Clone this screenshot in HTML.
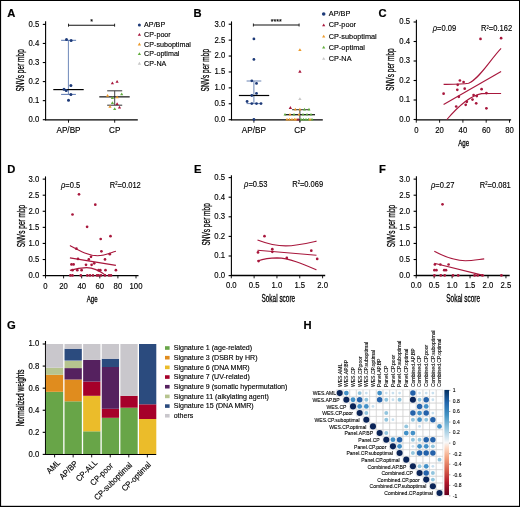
<!DOCTYPE html><html><head><meta charset="utf-8"><style>html,body{margin:0;padding:0;background:#fff;overflow:hidden}svg{display:block;font-family:"Liberation Sans", sans-serif;will-change:transform}text{stroke:#000;stroke-width:0.14px}</style></head><body>
<svg width="520" height="507" viewBox="0 0 520 507" font-family='"Liberation Sans", sans-serif'>
<rect x="0" y="0" width="520" height="507" fill="#fff"/>
<text x="7.3" y="16.8" font-size="11.2" text-anchor="start" font-weight="bold" fill="#000" style="stroke-width:0.2px">A</text>
<line x1="45.6" y1="21.2" x2="45.6" y2="120.2" stroke="#000" stroke-width="1.1"/>
<line x1="42.8" y1="119.7" x2="45.6" y2="119.7" stroke="#000" stroke-width="1.1"/>
<text transform="translate(39.3 122.15) scale(0.9 1)" font-size="8.6" text-anchor="end" font-weight="normal" fill="#000">0.0</text>
<line x1="42.8" y1="100.64" x2="45.6" y2="100.64" stroke="#000" stroke-width="1.1"/>
<text transform="translate(39.3 103.09) scale(0.9 1)" font-size="8.6" text-anchor="end" font-weight="normal" fill="#000">0.1</text>
<line x1="42.8" y1="81.58" x2="45.6" y2="81.58" stroke="#000" stroke-width="1.1"/>
<text transform="translate(39.3 84.03) scale(0.9 1)" font-size="8.6" text-anchor="end" font-weight="normal" fill="#000">0.2</text>
<line x1="42.8" y1="62.52" x2="45.6" y2="62.52" stroke="#000" stroke-width="1.1"/>
<text transform="translate(39.3 64.97) scale(0.9 1)" font-size="8.6" text-anchor="end" font-weight="normal" fill="#000">0.3</text>
<line x1="42.8" y1="43.46" x2="45.6" y2="43.46" stroke="#000" stroke-width="1.1"/>
<text transform="translate(39.3 45.91) scale(0.9 1)" font-size="8.6" text-anchor="end" font-weight="normal" fill="#000">0.4</text>
<line x1="42.8" y1="24.4" x2="45.6" y2="24.4" stroke="#000" stroke-width="1.1"/>
<text transform="translate(39.3 26.85) scale(0.9 1)" font-size="8.6" text-anchor="end" font-weight="normal" fill="#000">0.5</text>
<line x1="45" y1="119.9" x2="137.8" y2="119.9" stroke="#000" stroke-width="1.4"/>
<line x1="68.5" y1="119.9" x2="68.5" y2="122.7" stroke="#000" stroke-width="0.9"/>
<text transform="translate(68.5 132.7) scale(0.94 1)" font-size="8.7" text-anchor="middle" font-weight="normal" fill="#000">AP/BP</text>
<line x1="114.7" y1="119.9" x2="114.7" y2="122.7" stroke="#000" stroke-width="0.9"/>
<text transform="translate(114.7 132.7) scale(0.94 1)" font-size="8.7" text-anchor="middle" font-weight="normal" fill="#000">CP</text>
<text transform="translate(23.6 70.4) rotate(-90) scale(0.653 1)" x="0" y="0" font-size="10.0" text-anchor="middle" fill="#000" style="stroke-width:0.3px">SNVs per mbp</text>
<line x1="68.5" y1="25.2" x2="114.6" y2="25.2" stroke="#111" stroke-width="1.1"/>
<line x1="68.5" y1="23.7" x2="68.5" y2="26.7" stroke="#111" stroke-width="0.9"/>
<line x1="114.6" y1="23.7" x2="114.6" y2="26.7" stroke="#111" stroke-width="0.9"/>
<text x="91.7" y="24.3" font-size="7" text-anchor="middle" font-weight="normal" fill="#000">*</text>
<line x1="68.4" y1="40.3" x2="68.4" y2="94.4" stroke="#4a6aa8" stroke-width="0.8"/>
<line x1="61.1" y1="40.3" x2="76.1" y2="40.3" stroke="#4a6aa8" stroke-width="0.9"/>
<line x1="61.1" y1="94.4" x2="75.9" y2="94.4" stroke="#4a6aa8" stroke-width="0.9"/>
<line x1="53.3" y1="89.6" x2="83.7" y2="89.6" stroke="#000" stroke-width="1.2"/>
<circle cx="66.5" cy="39.5" r="1.5" fill="#1d3a78"/>
<circle cx="71.1" cy="40.5" r="1.5" fill="#1d3a78"/>
<circle cx="70.9" cy="85.5" r="1.5" fill="#1d3a78"/>
<circle cx="64" cy="89.3" r="1.5" fill="#1d3a78"/>
<circle cx="66.2" cy="90.5" r="1.5" fill="#1d3a78"/>
<circle cx="70.9" cy="94.4" r="1.5" fill="#1d3a78"/>
<circle cx="68.5" cy="100.2" r="1.5" fill="#1d3a78"/>
<line x1="114.7" y1="90.8" x2="114.7" y2="105.2" stroke="#444" stroke-width="1.0"/>
<line x1="107.2" y1="90.8" x2="122.2" y2="90.8" stroke="#444" stroke-width="1.1"/>
<line x1="107.2" y1="105.2" x2="122.2" y2="105.2" stroke="#444" stroke-width="1.1"/>
<line x1="99.3" y1="96.85" x2="129.7" y2="96.85" stroke="#222" stroke-width="1.3"/>
<path d="M112.4 81.43L114 84.21L110.8 84.21Z" fill="#a8173c"/>
<path d="M117.1 80.03L118.7 82.81L115.5 82.81Z" fill="#a8173c"/>
<path d="M117.1 102.33L118.7 105.11L115.5 105.11Z" fill="#a8173c"/>
<path d="M119.5 105.63L121.1 108.41L117.9 108.41Z" fill="#a8173c"/>
<path d="M107.6 94.03L109.2 96.81L106 96.81Z" fill="#ec9a2a"/>
<path d="M117.1 95.43L118.7 98.21L115.5 98.21Z" fill="#ec9a2a"/>
<path d="M110 104.93L111.6 107.71L108.4 107.71Z" fill="#ec9a2a"/>
<path d="M121.7 92.53L123.3 95.31L120.1 95.31Z" fill="#62ad3e"/>
<path d="M112.4 96.23L114 99.01L110.8 99.01Z" fill="#62ad3e"/>
<path d="M112.4 101.33L114 104.11L110.8 104.11Z" fill="#62ad3e"/>
<path d="M114.7 107.23L116.3 110.01L113.1 110.01Z" fill="#62ad3e"/>
<circle cx="139.4" cy="25.1" r="1.5" fill="#1d3a78"/>
<text transform="translate(144.1 27.3) scale(0.98 1)" font-size="7.3" text-anchor="start" font-weight="normal" fill="#000">AP/BP</text>
<path d="M139.4 33L141.05 35.87L137.75 35.87Z" fill="#a8173c"/>
<text transform="translate(144.1 36.92) scale(0.98 1)" font-size="7.3" text-anchor="start" font-weight="normal" fill="#000">CP-poor</text>
<path d="M139.4 42.62L141.05 45.49L137.75 45.49Z" fill="#ec9a2a"/>
<text transform="translate(144.1 46.54) scale(0.98 1)" font-size="7.3" text-anchor="start" font-weight="normal" fill="#000">CP-suboptimal</text>
<path d="M139.4 52.24L141.05 55.11L137.75 55.11Z" fill="#62ad3e"/>
<text transform="translate(144.1 56.16) scale(0.98 1)" font-size="7.3" text-anchor="start" font-weight="normal" fill="#000">CP-optimal</text>
<path d="M139.4 61.86L141.05 64.73L137.75 64.73Z" fill="#c8c8c8"/>
<text transform="translate(144.1 65.78) scale(0.98 1)" font-size="7.3" text-anchor="start" font-weight="normal" fill="#000">CP-NA</text>
<text x="193.5" y="16.9" font-size="11.2" text-anchor="start" font-weight="bold" fill="#000" style="stroke-width:0.2px">B</text>
<line x1="231.5" y1="21.4" x2="231.5" y2="120.2" stroke="#000" stroke-width="1.1"/>
<line x1="228.7" y1="119.7" x2="231.5" y2="119.7" stroke="#000" stroke-width="1.1"/>
<text transform="translate(225.2 122.15) scale(0.9 1)" font-size="8.6" text-anchor="end" font-weight="normal" fill="#000">0.0</text>
<line x1="228.7" y1="103.78" x2="231.5" y2="103.78" stroke="#000" stroke-width="1.1"/>
<text transform="translate(225.2 106.23) scale(0.9 1)" font-size="8.6" text-anchor="end" font-weight="normal" fill="#000">0.5</text>
<line x1="228.7" y1="87.87" x2="231.5" y2="87.87" stroke="#000" stroke-width="1.1"/>
<text transform="translate(225.2 90.32) scale(0.9 1)" font-size="8.6" text-anchor="end" font-weight="normal" fill="#000">1.0</text>
<line x1="228.7" y1="71.96" x2="231.5" y2="71.96" stroke="#000" stroke-width="1.1"/>
<text transform="translate(225.2 74.41) scale(0.9 1)" font-size="8.6" text-anchor="end" font-weight="normal" fill="#000">1.5</text>
<line x1="228.7" y1="56.04" x2="231.5" y2="56.04" stroke="#000" stroke-width="1.1"/>
<text transform="translate(225.2 58.49) scale(0.9 1)" font-size="8.6" text-anchor="end" font-weight="normal" fill="#000">2.0</text>
<line x1="228.7" y1="40.13" x2="231.5" y2="40.13" stroke="#000" stroke-width="1.1"/>
<text transform="translate(225.2 42.58) scale(0.9 1)" font-size="8.6" text-anchor="end" font-weight="normal" fill="#000">2.5</text>
<line x1="228.7" y1="24.21" x2="231.5" y2="24.21" stroke="#000" stroke-width="1.1"/>
<text transform="translate(225.2 26.66) scale(0.9 1)" font-size="8.6" text-anchor="end" font-weight="normal" fill="#000">3.0</text>
<line x1="230.9" y1="119.9" x2="322.8" y2="119.9" stroke="#000" stroke-width="1.4"/>
<line x1="253.9" y1="119.9" x2="253.9" y2="122.7" stroke="#000" stroke-width="0.9"/>
<text transform="translate(253.9 132.7) scale(0.94 1)" font-size="8.7" text-anchor="middle" font-weight="normal" fill="#000">AP/BP</text>
<line x1="299.9" y1="119.9" x2="299.9" y2="122.7" stroke="#000" stroke-width="0.9"/>
<text transform="translate(299.9 132.7) scale(0.94 1)" font-size="8.7" text-anchor="middle" font-weight="normal" fill="#000">CP</text>
<text transform="translate(208.9 70.2) rotate(-90) scale(0.653 1)" x="0" y="0" font-size="10.0" text-anchor="middle" fill="#000" style="stroke-width:0.3px">SNVs per mbp</text>
<line x1="253.4" y1="25" x2="299.1" y2="25" stroke="#111" stroke-width="1.1"/>
<line x1="253.4" y1="23.5" x2="253.4" y2="26.5" stroke="#111" stroke-width="0.9"/>
<line x1="299.1" y1="23.5" x2="299.1" y2="26.5" stroke="#111" stroke-width="0.9"/>
<text x="276.3" y="24.1" font-size="7" text-anchor="middle" font-weight="normal" fill="#000">****</text>
<line x1="253.9" y1="81" x2="253.9" y2="103.6" stroke="#6a84b4" stroke-width="1.0"/>
<line x1="246.6" y1="81" x2="261.3" y2="81" stroke="#6a84b4" stroke-width="1.0"/>
<line x1="246.6" y1="103.6" x2="261.3" y2="103.6" stroke="#6a84b4" stroke-width="1.0"/>
<line x1="238.9" y1="95.5" x2="269.2" y2="95.5" stroke="#000" stroke-width="1.2"/>
<circle cx="253.9" cy="38.9" r="1.4" fill="#1d3a78"/>
<circle cx="253.9" cy="59.4" r="1.4" fill="#1d3a78"/>
<circle cx="251.8" cy="80.8" r="1.4" fill="#1d3a78"/>
<circle cx="256.5" cy="83.4" r="1.4" fill="#1d3a78"/>
<circle cx="256.5" cy="93.4" r="1.4" fill="#1d3a78"/>
<circle cx="251.8" cy="95.5" r="1.4" fill="#1d3a78"/>
<circle cx="247.1" cy="101.5" r="1.4" fill="#1d3a78"/>
<circle cx="251.8" cy="103.6" r="1.4" fill="#1d3a78"/>
<circle cx="256.5" cy="103.6" r="1.4" fill="#1d3a78"/>
<circle cx="261" cy="103.6" r="1.4" fill="#1d3a78"/>
<circle cx="253.9" cy="119.5" r="1.4" fill="#1d3a78"/>
<path d="M299.9 48.13L301.6 51.08L298.2 51.08Z" fill="#ec9a2a"/>
<path d="M299.9 69.83L301.6 72.78L298.2 72.78Z" fill="#a8173c"/>
<path d="M299.9 97.13L301.6 100.08L298.2 100.08Z" fill="#c8c8c8"/>
<path d="M290.4 106.03L292.1 108.98L288.7 108.98Z" fill="#a8173c"/>
<line x1="299.9" y1="109.7" x2="299.9" y2="122" stroke="#333" stroke-width="1.0"/>
<line x1="292.1" y1="109.7" x2="309.8" y2="109.7" stroke="#333" stroke-width="1.0"/>
<line x1="284.8" y1="114.7" x2="315" y2="114.7" stroke="#111" stroke-width="1.2"/>
<path d="M295.3 107.83L296.8 110.44L293.8 110.44Z" fill="#ec9a2a"/>
<path d="M299.9 107.83L301.4 110.44L298.4 110.44Z" fill="#ec9a2a"/>
<path d="M304.5 107.83L306 110.44L303 110.44Z" fill="#62ad3e"/>
<path d="M309 107.83L310.5 110.44L307.5 110.44Z" fill="#62ad3e"/>
<path d="M285 112.93L286.5 115.54L283.5 115.54Z" fill="#62ad3e"/>
<path d="M294 112.93L295.5 115.54L292.5 115.54Z" fill="#62ad3e"/>
<path d="M303 112.93L304.5 115.54L301.5 115.54Z" fill="#62ad3e"/>
<path d="M307 112.93L308.5 115.54L305.5 115.54Z" fill="#62ad3e"/>
<path d="M311 112.93L312.5 115.54L309.5 115.54Z" fill="#62ad3e"/>
<path d="M290 112.93L291.5 115.54L288.5 115.54Z" fill="#ec9a2a"/>
<path d="M299 112.93L300.5 115.54L297.5 115.54Z" fill="#ec9a2a"/>
<path d="M287 117.83L288.5 120.44L285.5 120.44Z" fill="#ec9a2a"/>
<path d="M289.5 117.83L291 120.44L288 120.44Z" fill="#ec9a2a"/>
<path d="M292 117.83L293.5 120.44L290.5 120.44Z" fill="#ec9a2a"/>
<path d="M294.5 117.83L296 120.44L293 120.44Z" fill="#ec9a2a"/>
<path d="M296 117.83L297.5 120.44L294.5 120.44Z" fill="#ec9a2a"/>
<path d="M298 117.83L299.5 120.44L296.5 120.44Z" fill="#a8173c"/>
<path d="M301 117.83L302.5 120.44L299.5 120.44Z" fill="#62ad3e"/>
<path d="M303.5 117.83L305 120.44L302 120.44Z" fill="#62ad3e"/>
<path d="M306 117.83L307.5 120.44L304.5 120.44Z" fill="#62ad3e"/>
<path d="M308.5 117.83L310 120.44L307 120.44Z" fill="#62ad3e"/>
<path d="M312 117.83L313.5 120.44L310.5 120.44Z" fill="#62ad3e"/>
<path d="M310 117.83L311.5 120.44L308.5 120.44Z" fill="#ec9a2a"/>
<circle cx="323.7" cy="14" r="1.8" fill="#1d3a78"/>
<text x="328.8" y="16.3" font-size="7.3" text-anchor="start" font-weight="normal" fill="#000">AP/BP</text>
<path d="M323.7 23.48L325.3 26.26L322.1 26.26Z" fill="#a8173c"/>
<text x="328.8" y="27.45" font-size="7.3" text-anchor="start" font-weight="normal" fill="#000">CP-poor</text>
<path d="M323.7 34.63L325.3 37.41L322.1 37.41Z" fill="#ec9a2a"/>
<text x="328.8" y="38.6" font-size="7.3" text-anchor="start" font-weight="normal" fill="#000">CP-suboptimal</text>
<path d="M323.7 45.78L325.3 48.56L322.1 48.56Z" fill="#62ad3e"/>
<text x="328.8" y="49.75" font-size="7.3" text-anchor="start" font-weight="normal" fill="#000">CP-optimal</text>
<path d="M323.7 56.93L325.3 59.71L322.1 59.71Z" fill="#c8c8c8"/>
<text x="328.8" y="60.9" font-size="7.3" text-anchor="start" font-weight="normal" fill="#000">CP-NA</text>
<text x="378.5" y="16.7" font-size="11.2" text-anchor="start" font-weight="bold" fill="#000" style="stroke-width:0.2px">C</text>
<line x1="416.4" y1="19.8" x2="416.4" y2="120" stroke="#000" stroke-width="1.1"/>
<line x1="413.6" y1="119.5" x2="416.4" y2="119.5" stroke="#000" stroke-width="1.1"/>
<text transform="translate(410.1 121.95) scale(0.9 1)" font-size="8.6" text-anchor="end" font-weight="normal" fill="#000">0.0</text>
<line x1="413.6" y1="100" x2="416.4" y2="100" stroke="#000" stroke-width="1.1"/>
<text transform="translate(410.1 102.45) scale(0.9 1)" font-size="8.6" text-anchor="end" font-weight="normal" fill="#000">0.1</text>
<line x1="413.6" y1="80.5" x2="416.4" y2="80.5" stroke="#000" stroke-width="1.1"/>
<text transform="translate(410.1 82.95) scale(0.9 1)" font-size="8.6" text-anchor="end" font-weight="normal" fill="#000">0.2</text>
<line x1="413.6" y1="61" x2="416.4" y2="61" stroke="#000" stroke-width="1.1"/>
<text transform="translate(410.1 63.45) scale(0.9 1)" font-size="8.6" text-anchor="end" font-weight="normal" fill="#000">0.3</text>
<line x1="413.6" y1="41.5" x2="416.4" y2="41.5" stroke="#000" stroke-width="1.1"/>
<text transform="translate(410.1 43.95) scale(0.9 1)" font-size="8.6" text-anchor="end" font-weight="normal" fill="#000">0.4</text>
<line x1="413.6" y1="22" x2="416.4" y2="22" stroke="#000" stroke-width="1.1"/>
<text transform="translate(410.1 24.45) scale(0.9 1)" font-size="8.6" text-anchor="end" font-weight="normal" fill="#000">0.5</text>
<line x1="415.8" y1="119.9" x2="511.1" y2="119.9" stroke="#000" stroke-width="1.4"/>
<line x1="416.3" y1="119.9" x2="416.3" y2="122.7" stroke="#000" stroke-width="0.9"/>
<text transform="translate(416.3 132.9) scale(0.9 1)" font-size="8.6" text-anchor="middle" font-weight="normal" fill="#000">0</text>
<line x1="439.6" y1="119.9" x2="439.6" y2="122.7" stroke="#000" stroke-width="0.9"/>
<text transform="translate(439.6 132.9) scale(0.9 1)" font-size="8.6" text-anchor="middle" font-weight="normal" fill="#000">20</text>
<line x1="462.9" y1="119.9" x2="462.9" y2="122.7" stroke="#000" stroke-width="0.9"/>
<text transform="translate(462.9 132.9) scale(0.9 1)" font-size="8.6" text-anchor="middle" font-weight="normal" fill="#000">40</text>
<line x1="486.2" y1="119.9" x2="486.2" y2="122.7" stroke="#000" stroke-width="0.9"/>
<text transform="translate(486.2 132.9) scale(0.9 1)" font-size="8.6" text-anchor="middle" font-weight="normal" fill="#000">60</text>
<line x1="509.5" y1="119.9" x2="509.5" y2="122.7" stroke="#000" stroke-width="0.9"/>
<text transform="translate(509.5 132.9) scale(0.9 1)" font-size="8.6" text-anchor="middle" font-weight="normal" fill="#000">80</text>
<text transform="translate(393.8 69.5) rotate(-90) scale(0.653 1)" x="0" y="0" font-size="10.0" text-anchor="middle" fill="#000" style="stroke-width:0.3px">SNVs per mbp</text>
<text transform="translate(463.6 146) scale(0.65 1)" x="0" y="0" font-size="9.4" text-anchor="middle" fill="#000" style="stroke-width:0.3px">Age</text>
<text transform="translate(432.8 31.2) scale(0.92 1)" font-size="8.2" text-anchor="start" font-weight="normal" fill="#000"><tspan font-style="italic">ρ</tspan>=0.09</text>
<text transform="translate(481.1 31.2) scale(0.92 1)" font-size="8.2" text-anchor="start" font-weight="normal" fill="#000">R<tspan font-size="4.5" dy="-2.6">2</tspan><tspan dy="2.6">=0.162</tspan></text>
<circle cx="480.5" cy="38.9" r="1.35" fill="#a8173c"/>
<circle cx="501.1" cy="38.2" r="1.35" fill="#a8173c"/>
<circle cx="459.9" cy="80.5" r="1.35" fill="#a8173c"/>
<circle cx="463.6" cy="82" r="1.35" fill="#a8173c"/>
<circle cx="457.7" cy="84.8" r="1.35" fill="#a8173c"/>
<circle cx="457.3" cy="89.8" r="1.35" fill="#a8173c"/>
<circle cx="464.7" cy="88.7" r="1.35" fill="#a8173c"/>
<circle cx="481.6" cy="89.2" r="1.35" fill="#a8173c"/>
<circle cx="443.6" cy="93.7" r="1.35" fill="#a8173c"/>
<circle cx="486.4" cy="93.1" r="1.35" fill="#a8173c"/>
<circle cx="458.8" cy="96.8" r="1.35" fill="#a8173c"/>
<circle cx="473.6" cy="95" r="1.35" fill="#a8173c"/>
<circle cx="476.8" cy="96.1" r="1.35" fill="#a8173c"/>
<circle cx="472.5" cy="99.6" r="1.35" fill="#a8173c"/>
<circle cx="466.8" cy="101.8" r="1.35" fill="#a8173c"/>
<circle cx="476.2" cy="103.3" r="1.35" fill="#a8173c"/>
<circle cx="456.2" cy="106.5" r="1.35" fill="#a8173c"/>
<circle cx="465.7" cy="104.8" r="1.35" fill="#a8173c"/>
<circle cx="486.4" cy="108.3" r="1.35" fill="#a8173c"/>
<line x1="443.6" y1="104.4" x2="501.1" y2="71.4" stroke="#a8173c" stroke-width="1.15"/>
<path d="M443.6 84.4 C455 84.4 462 84.5 468.6 83.3 C480 78 490 60 501.1 48.4" fill="none" stroke="#a8173c" stroke-width="1.1"/>
<path d="M446.9 119.5 C455 110 468 96 481.6 93.6 C488 93.3 495 93.5 501.1 93.5" fill="none" stroke="#a8173c" stroke-width="1.1"/>
<text x="7.3" y="172.8" font-size="11.2" text-anchor="start" font-weight="bold" fill="#000" style="stroke-width:0.2px">D</text>
<line x1="45.5" y1="176.4" x2="45.5" y2="276.1" stroke="#000" stroke-width="1.1"/>
<line x1="42.7" y1="275.6" x2="45.5" y2="275.6" stroke="#000" stroke-width="1.1"/>
<text transform="translate(39.2 278.05) scale(0.9 1)" font-size="8.6" text-anchor="end" font-weight="normal" fill="#000">0.0</text>
<line x1="42.7" y1="259.52" x2="45.5" y2="259.52" stroke="#000" stroke-width="1.1"/>
<text transform="translate(39.2 261.97) scale(0.9 1)" font-size="8.6" text-anchor="end" font-weight="normal" fill="#000">0.5</text>
<line x1="42.7" y1="243.44" x2="45.5" y2="243.44" stroke="#000" stroke-width="1.1"/>
<text transform="translate(39.2 245.89) scale(0.9 1)" font-size="8.6" text-anchor="end" font-weight="normal" fill="#000">1.0</text>
<line x1="42.7" y1="227.36" x2="45.5" y2="227.36" stroke="#000" stroke-width="1.1"/>
<text transform="translate(39.2 229.81) scale(0.9 1)" font-size="8.6" text-anchor="end" font-weight="normal" fill="#000">1.5</text>
<line x1="42.7" y1="211.28" x2="45.5" y2="211.28" stroke="#000" stroke-width="1.1"/>
<text transform="translate(39.2 213.73) scale(0.9 1)" font-size="8.6" text-anchor="end" font-weight="normal" fill="#000">2.0</text>
<line x1="42.7" y1="195.2" x2="45.5" y2="195.2" stroke="#000" stroke-width="1.1"/>
<text transform="translate(39.2 197.65) scale(0.9 1)" font-size="8.6" text-anchor="end" font-weight="normal" fill="#000">2.5</text>
<line x1="42.7" y1="179.12" x2="45.5" y2="179.12" stroke="#000" stroke-width="1.1"/>
<text transform="translate(39.2 181.57) scale(0.9 1)" font-size="8.6" text-anchor="end" font-weight="normal" fill="#000">3.0</text>
<line x1="44.9" y1="275.6" x2="138.5" y2="275.6" stroke="#000" stroke-width="1.4"/>
<line x1="45.5" y1="275.6" x2="45.5" y2="278.4" stroke="#000" stroke-width="0.9"/>
<text transform="translate(45.5 288.5) scale(0.9 1)" font-size="8.6" text-anchor="middle" font-weight="normal" fill="#000">0</text>
<line x1="63.6" y1="275.6" x2="63.6" y2="278.4" stroke="#000" stroke-width="0.9"/>
<text transform="translate(63.6 288.5) scale(0.9 1)" font-size="8.6" text-anchor="middle" font-weight="normal" fill="#000">20</text>
<line x1="81.7" y1="275.6" x2="81.7" y2="278.4" stroke="#000" stroke-width="0.9"/>
<text transform="translate(81.7 288.5) scale(0.9 1)" font-size="8.6" text-anchor="middle" font-weight="normal" fill="#000">40</text>
<line x1="99.8" y1="275.6" x2="99.8" y2="278.4" stroke="#000" stroke-width="0.9"/>
<text transform="translate(99.8 288.5) scale(0.9 1)" font-size="8.6" text-anchor="middle" font-weight="normal" fill="#000">60</text>
<line x1="117.9" y1="275.6" x2="117.9" y2="278.4" stroke="#000" stroke-width="0.9"/>
<text transform="translate(117.9 288.5) scale(0.9 1)" font-size="8.6" text-anchor="middle" font-weight="normal" fill="#000">80</text>
<line x1="136" y1="275.6" x2="136" y2="278.4" stroke="#000" stroke-width="0.9"/>
<text transform="translate(136 288.5) scale(0.9 1)" font-size="8.6" text-anchor="middle" font-weight="normal" fill="#000">100</text>
<text transform="translate(24.8 226) rotate(-90) scale(0.653 1)" x="0" y="0" font-size="10.0" text-anchor="middle" fill="#000" style="stroke-width:0.3px">SNVs per mbp</text>
<text transform="translate(92.2 301.8) scale(0.65 1)" x="0" y="0" font-size="9.4" text-anchor="middle" fill="#000" style="stroke-width:0.3px">Age</text>
<text transform="translate(61 188) scale(0.92 1)" font-size="8.2" text-anchor="start" font-weight="normal" fill="#000"><tspan font-style="italic">ρ</tspan>=0.5</text>
<text transform="translate(109.8 188) scale(0.92 1)" font-size="8.2" text-anchor="start" font-weight="normal" fill="#000">R<tspan font-size="4.5" dy="-2.6">2</tspan><tspan dy="2.6">=0.012</tspan></text>
<circle cx="79" cy="194.3" r="1.35" fill="#a8173c"/>
<circle cx="95.3" cy="204.7" r="1.35" fill="#a8173c"/>
<circle cx="72.5" cy="214.5" r="1.35" fill="#a8173c"/>
<circle cx="87.1" cy="226.8" r="1.35" fill="#a8173c"/>
<circle cx="100.7" cy="239" r="1.35" fill="#a8173c"/>
<circle cx="110.5" cy="236.2" r="1.35" fill="#a8173c"/>
<circle cx="76.4" cy="248.7" r="1.35" fill="#a8173c"/>
<circle cx="101.4" cy="251.3" r="1.35" fill="#a8173c"/>
<circle cx="109.8" cy="254.2" r="1.35" fill="#a8173c"/>
<circle cx="91" cy="256.8" r="1.35" fill="#a8173c"/>
<circle cx="78" cy="258.9" r="1.35" fill="#a8173c"/>
<circle cx="88.8" cy="259.4" r="1.35" fill="#a8173c"/>
<circle cx="105" cy="259.4" r="1.35" fill="#a8173c"/>
<circle cx="94.2" cy="263.3" r="1.35" fill="#a8173c"/>
<circle cx="71.5" cy="264.4" r="1.35" fill="#a8173c"/>
<circle cx="73.6" cy="264.4" r="1.35" fill="#a8173c"/>
<circle cx="86" cy="264.8" r="1.35" fill="#a8173c"/>
<circle cx="91.6" cy="264.8" r="1.35" fill="#a8173c"/>
<circle cx="72.5" cy="270.2" r="1.35" fill="#a8173c"/>
<circle cx="77.3" cy="270.2" r="1.35" fill="#a8173c"/>
<circle cx="81.6" cy="270.2" r="1.35" fill="#a8173c"/>
<circle cx="98.6" cy="270.2" r="1.35" fill="#a8173c"/>
<circle cx="100.3" cy="270.2" r="1.35" fill="#a8173c"/>
<circle cx="105.5" cy="270.2" r="1.35" fill="#a8173c"/>
<circle cx="115.9" cy="270.2" r="1.35" fill="#a8173c"/>
<circle cx="70.4" cy="275.4" r="1.35" fill="#a8173c"/>
<circle cx="72.5" cy="275.4" r="1.35" fill="#a8173c"/>
<circle cx="80.8" cy="275.4" r="1.35" fill="#a8173c"/>
<circle cx="87.3" cy="275.4" r="1.35" fill="#a8173c"/>
<circle cx="90" cy="275.4" r="1.35" fill="#a8173c"/>
<circle cx="93" cy="275.4" r="1.35" fill="#a8173c"/>
<circle cx="97" cy="275.4" r="1.35" fill="#a8173c"/>
<circle cx="98.6" cy="275.4" r="1.35" fill="#a8173c"/>
<circle cx="101" cy="275.4" r="1.35" fill="#a8173c"/>
<circle cx="105" cy="275.4" r="1.35" fill="#a8173c"/>
<circle cx="109" cy="275.4" r="1.35" fill="#a8173c"/>
<circle cx="111" cy="275.4" r="1.35" fill="#a8173c"/>
<line x1="69.9" y1="257.9" x2="115.9" y2="265.4" stroke="#a8173c" stroke-width="1.15"/>
<path d="M69.9 245.5 C80 251 88 255.7 97.5 255.7 C105 255.7 110 253 115.9 251.3" fill="none" stroke="#a8173c" stroke-width="1.1"/>
<path d="M69.9 270.4 C76 268.5 81 267.6 86.6 267.6 C94 267.6 100 271 106 275.6" fill="none" stroke="#a8173c" stroke-width="1.1"/>
<text x="194" y="173.1" font-size="11.2" text-anchor="start" font-weight="bold" fill="#000" style="stroke-width:0.2px">E</text>
<line x1="231.4" y1="175.2" x2="231.4" y2="276.1" stroke="#000" stroke-width="1.1"/>
<line x1="228.6" y1="275.6" x2="231.4" y2="275.6" stroke="#000" stroke-width="1.1"/>
<text transform="translate(225.1 278.05) scale(0.9 1)" font-size="8.6" text-anchor="end" font-weight="normal" fill="#000">0.0</text>
<line x1="228.6" y1="256" x2="231.4" y2="256" stroke="#000" stroke-width="1.1"/>
<text transform="translate(225.1 258.45) scale(0.9 1)" font-size="8.6" text-anchor="end" font-weight="normal" fill="#000">0.1</text>
<line x1="228.6" y1="236.4" x2="231.4" y2="236.4" stroke="#000" stroke-width="1.1"/>
<text transform="translate(225.1 238.85) scale(0.9 1)" font-size="8.6" text-anchor="end" font-weight="normal" fill="#000">0.2</text>
<line x1="228.6" y1="216.8" x2="231.4" y2="216.8" stroke="#000" stroke-width="1.1"/>
<text transform="translate(225.1 219.25) scale(0.9 1)" font-size="8.6" text-anchor="end" font-weight="normal" fill="#000">0.3</text>
<line x1="228.6" y1="197.2" x2="231.4" y2="197.2" stroke="#000" stroke-width="1.1"/>
<text transform="translate(225.1 199.65) scale(0.9 1)" font-size="8.6" text-anchor="end" font-weight="normal" fill="#000">0.4</text>
<line x1="228.6" y1="177.6" x2="231.4" y2="177.6" stroke="#000" stroke-width="1.1"/>
<text transform="translate(225.1 180.05) scale(0.9 1)" font-size="8.6" text-anchor="end" font-weight="normal" fill="#000">0.5</text>
<line x1="230.8" y1="275.5" x2="325.2" y2="275.5" stroke="#000" stroke-width="1.4"/>
<line x1="231.3" y1="275.5" x2="231.3" y2="278.3" stroke="#000" stroke-width="0.9"/>
<text transform="translate(231.3 288.4) scale(0.9 1)" font-size="8.6" text-anchor="middle" font-weight="normal" fill="#000">0.0</text>
<line x1="254.12" y1="275.5" x2="254.12" y2="278.3" stroke="#000" stroke-width="0.9"/>
<text transform="translate(254.12 288.4) scale(0.9 1)" font-size="8.6" text-anchor="middle" font-weight="normal" fill="#000">0.5</text>
<line x1="276.95" y1="275.5" x2="276.95" y2="278.3" stroke="#000" stroke-width="0.9"/>
<text transform="translate(276.95 288.4) scale(0.9 1)" font-size="8.6" text-anchor="middle" font-weight="normal" fill="#000">1.0</text>
<line x1="299.77" y1="275.5" x2="299.77" y2="278.3" stroke="#000" stroke-width="0.9"/>
<text transform="translate(299.77 288.4) scale(0.9 1)" font-size="8.6" text-anchor="middle" font-weight="normal" fill="#000">1.5</text>
<line x1="322.6" y1="275.5" x2="322.6" y2="278.3" stroke="#000" stroke-width="0.9"/>
<text transform="translate(322.6 288.4) scale(0.9 1)" font-size="8.6" text-anchor="middle" font-weight="normal" fill="#000">2.0</text>
<text transform="translate(210.2 224.4) rotate(-90) scale(0.653 1)" x="0" y="0" font-size="10.0" text-anchor="middle" fill="#000" style="stroke-width:0.3px">SNVs per mbp</text>
<text transform="translate(278.3 301.9) scale(0.6 1)" x="0" y="0" font-size="10.8" text-anchor="middle" fill="#000" style="stroke-width:0.3px">Sokal score</text>
<text transform="translate(244.1 186.6) scale(0.92 1)" font-size="8.2" text-anchor="start" font-weight="normal" fill="#000"><tspan font-style="italic">ρ</tspan>=0.53</text>
<text transform="translate(292.2 186.6) scale(0.92 1)" font-size="8.2" text-anchor="start" font-weight="normal" fill="#000">R<tspan font-size="4.5" dy="-2.6">2</tspan><tspan dy="2.6">=0.069</tspan></text>
<circle cx="264.5" cy="236.2" r="1.35" fill="#a8173c"/>
<circle cx="272.3" cy="249.2" r="1.35" fill="#a8173c"/>
<circle cx="272.3" cy="251.8" r="1.35" fill="#a8173c"/>
<circle cx="258" cy="252.4" r="1.35" fill="#a8173c"/>
<circle cx="311.3" cy="250.7" r="1.35" fill="#a8173c"/>
<circle cx="286.8" cy="257.9" r="1.35" fill="#a8173c"/>
<circle cx="258.6" cy="261.1" r="1.35" fill="#a8173c"/>
<circle cx="317.2" cy="258.9" r="1.35" fill="#a8173c"/>
<line x1="257.5" y1="250.3" x2="316.5" y2="255.2" stroke="#a8173c" stroke-width="1.15"/>
<path d="M257.5 240 C268 244 276 245.9 285.7 245.9 C296 245.9 306 243.5 316.5 241.1" fill="none" stroke="#a8173c" stroke-width="1.1"/>
<path d="M257.5 261.1 C264 258.8 270 257.9 277 257.9 C290 258.3 303 264 316.5 269.8" fill="none" stroke="#a8173c" stroke-width="1.1"/>
<text x="379" y="173.1" font-size="11.2" text-anchor="start" font-weight="bold" fill="#000" style="stroke-width:0.2px">F</text>
<line x1="416.4" y1="176.3" x2="416.4" y2="276.1" stroke="#000" stroke-width="1.1"/>
<line x1="413.6" y1="275.6" x2="416.4" y2="275.6" stroke="#000" stroke-width="1.1"/>
<text transform="translate(410.1 278.05) scale(0.9 1)" font-size="8.6" text-anchor="end" font-weight="normal" fill="#000">0.0</text>
<line x1="413.6" y1="259.52" x2="416.4" y2="259.52" stroke="#000" stroke-width="1.1"/>
<text transform="translate(410.1 261.97) scale(0.9 1)" font-size="8.6" text-anchor="end" font-weight="normal" fill="#000">0.5</text>
<line x1="413.6" y1="243.44" x2="416.4" y2="243.44" stroke="#000" stroke-width="1.1"/>
<text transform="translate(410.1 245.89) scale(0.9 1)" font-size="8.6" text-anchor="end" font-weight="normal" fill="#000">1.0</text>
<line x1="413.6" y1="227.36" x2="416.4" y2="227.36" stroke="#000" stroke-width="1.1"/>
<text transform="translate(410.1 229.81) scale(0.9 1)" font-size="8.6" text-anchor="end" font-weight="normal" fill="#000">1.5</text>
<line x1="413.6" y1="211.28" x2="416.4" y2="211.28" stroke="#000" stroke-width="1.1"/>
<text transform="translate(410.1 213.73) scale(0.9 1)" font-size="8.6" text-anchor="end" font-weight="normal" fill="#000">2.0</text>
<line x1="413.6" y1="195.2" x2="416.4" y2="195.2" stroke="#000" stroke-width="1.1"/>
<text transform="translate(410.1 197.65) scale(0.9 1)" font-size="8.6" text-anchor="end" font-weight="normal" fill="#000">2.5</text>
<line x1="413.6" y1="179.12" x2="416.4" y2="179.12" stroke="#000" stroke-width="1.1"/>
<text transform="translate(410.1 181.57) scale(0.9 1)" font-size="8.6" text-anchor="end" font-weight="normal" fill="#000">3.0</text>
<line x1="415.8" y1="275.5" x2="509.7" y2="275.5" stroke="#000" stroke-width="1.4"/>
<line x1="416.2" y1="275.5" x2="416.2" y2="278.3" stroke="#000" stroke-width="0.9"/>
<text transform="translate(416.2 288.4) scale(0.9 1)" font-size="8.6" text-anchor="middle" font-weight="normal" fill="#000">0.0</text>
<line x1="434.15" y1="275.5" x2="434.15" y2="278.3" stroke="#000" stroke-width="0.9"/>
<text transform="translate(434.15 288.4) scale(0.9 1)" font-size="8.6" text-anchor="middle" font-weight="normal" fill="#000">0.5</text>
<line x1="452.1" y1="275.5" x2="452.1" y2="278.3" stroke="#000" stroke-width="0.9"/>
<text transform="translate(452.1 288.4) scale(0.9 1)" font-size="8.6" text-anchor="middle" font-weight="normal" fill="#000">1.0</text>
<line x1="470.05" y1="275.5" x2="470.05" y2="278.3" stroke="#000" stroke-width="0.9"/>
<text transform="translate(470.05 288.4) scale(0.9 1)" font-size="8.6" text-anchor="middle" font-weight="normal" fill="#000">1.5</text>
<line x1="488" y1="275.5" x2="488" y2="278.3" stroke="#000" stroke-width="0.9"/>
<text transform="translate(488 288.4) scale(0.9 1)" font-size="8.6" text-anchor="middle" font-weight="normal" fill="#000">2.0</text>
<line x1="505.95" y1="275.5" x2="505.95" y2="278.3" stroke="#000" stroke-width="0.9"/>
<text transform="translate(505.95 288.4) scale(0.9 1)" font-size="8.6" text-anchor="middle" font-weight="normal" fill="#000">2.5</text>
<text transform="translate(395.2 226) rotate(-90) scale(0.653 1)" x="0" y="0" font-size="10.0" text-anchor="middle" fill="#000" style="stroke-width:0.3px">SNVs per mbp</text>
<text transform="translate(463.2 301.9) scale(0.6 1)" x="0" y="0" font-size="10.8" text-anchor="middle" fill="#000" style="stroke-width:0.3px">Sokal score</text>
<text transform="translate(431 187.8) scale(0.92 1)" font-size="8.2" text-anchor="start" font-weight="normal" fill="#000"><tspan font-style="italic">ρ</tspan>=0.27</text>
<text transform="translate(479.8 187.8) scale(0.92 1)" font-size="8.2" text-anchor="start" font-weight="normal" fill="#000">R<tspan font-size="4.5" dy="-2.6">2</tspan><tspan dy="2.6">=0.081</tspan></text>
<circle cx="442.5" cy="204.3" r="1.35" fill="#a8173c"/>
<circle cx="434.9" cy="264.5" r="1.35" fill="#a8173c"/>
<circle cx="440.3" cy="264.5" r="1.35" fill="#a8173c"/>
<circle cx="448.6" cy="264.5" r="1.35" fill="#a8173c"/>
<circle cx="434.4" cy="270.2" r="1.35" fill="#a8173c"/>
<circle cx="436.4" cy="270.2" r="1.35" fill="#a8173c"/>
<circle cx="444.2" cy="270.2" r="1.35" fill="#a8173c"/>
<circle cx="446" cy="270.2" r="1.35" fill="#a8173c"/>
<circle cx="434.4" cy="275.4" r="1.35" fill="#a8173c"/>
<circle cx="440.8" cy="275.4" r="1.35" fill="#a8173c"/>
<circle cx="444.7" cy="275.4" r="1.35" fill="#a8173c"/>
<circle cx="453" cy="275.4" r="1.35" fill="#a8173c"/>
<circle cx="458.2" cy="275.4" r="1.35" fill="#a8173c"/>
<circle cx="474.6" cy="275.4" r="1.35" fill="#a8173c"/>
<circle cx="477.7" cy="275.4" r="1.35" fill="#a8173c"/>
<circle cx="482.4" cy="275.4" r="1.35" fill="#a8173c"/>
<circle cx="501.4" cy="275.4" r="1.35" fill="#a8173c"/>
<line x1="434.3" y1="263.3" x2="484.2" y2="275.6" stroke="#a8173c" stroke-width="1.15"/>
<path d="M434.3 251.3 C445 257 455 260.7 465.3 260.7 C472 260.7 478 259.6 484.2 258.9" fill="none" stroke="#a8173c" stroke-width="1.1"/>
<text x="7" y="329.3" font-size="11.2" text-anchor="start" font-weight="bold" fill="#000" style="stroke-width:0.2px">G</text>
<line x1="45.5" y1="341" x2="45.5" y2="454.9" stroke="#000" stroke-width="1.1"/>
<line x1="42.7" y1="454.4" x2="45.5" y2="454.4" stroke="#000" stroke-width="1.1"/>
<text transform="translate(39.2 456.85) scale(0.9 1)" font-size="8.6" text-anchor="end" font-weight="normal" fill="#000">0.0</text>
<line x1="42.7" y1="432.32" x2="45.5" y2="432.32" stroke="#000" stroke-width="1.1"/>
<text transform="translate(39.2 434.77) scale(0.9 1)" font-size="8.6" text-anchor="end" font-weight="normal" fill="#000">0.2</text>
<line x1="42.7" y1="410.24" x2="45.5" y2="410.24" stroke="#000" stroke-width="1.1"/>
<text transform="translate(39.2 412.69) scale(0.9 1)" font-size="8.6" text-anchor="end" font-weight="normal" fill="#000">0.4</text>
<line x1="42.7" y1="388.16" x2="45.5" y2="388.16" stroke="#000" stroke-width="1.1"/>
<text transform="translate(39.2 390.61) scale(0.9 1)" font-size="8.6" text-anchor="end" font-weight="normal" fill="#000">0.6</text>
<line x1="42.7" y1="366.08" x2="45.5" y2="366.08" stroke="#000" stroke-width="1.1"/>
<text transform="translate(39.2 368.53) scale(0.9 1)" font-size="8.6" text-anchor="end" font-weight="normal" fill="#000">0.8</text>
<line x1="42.7" y1="344" x2="45.5" y2="344" stroke="#000" stroke-width="1.1"/>
<text transform="translate(39.2 346.45) scale(0.9 1)" font-size="8.6" text-anchor="end" font-weight="normal" fill="#000">1.0</text>
<text transform="translate(23.8 397.9) rotate(-90) scale(0.653 1)" x="0" y="0" font-size="10.0" text-anchor="middle" fill="#000" style="stroke-width:0.3px">Normalized weights</text>
<rect x="45.9" y="391.8" width="17.3" height="62.6" fill="#68a548"/>
<rect x="45.9" y="374.8" width="17.3" height="17" fill="#e08c1e"/>
<rect x="45.9" y="367.7" width="17.3" height="7.1" fill="#b6c48f"/>
<rect x="45.9" y="344" width="17.3" height="23.7" fill="#c9c7cc"/>
<rect x="64.52" y="401.3" width="17.3" height="53.1" fill="#68a548"/>
<rect x="64.52" y="379.5" width="17.3" height="21.8" fill="#e08c1e"/>
<rect x="64.52" y="368.1" width="17.3" height="11.4" fill="#55215f"/>
<rect x="64.52" y="361" width="17.3" height="7.1" fill="#b6c48f"/>
<rect x="64.52" y="348.7" width="17.3" height="11.9" fill="#2b4b7e"/>
<rect x="64.52" y="344" width="17.3" height="4.7" fill="#c9c7cc"/>
<rect x="83.14" y="431.3" width="17.3" height="23.1" fill="#68a548"/>
<rect x="83.14" y="395.8" width="17.3" height="35.5" fill="#ebbc2a"/>
<rect x="83.14" y="381.6" width="17.3" height="14.2" fill="#a6002a"/>
<rect x="83.14" y="359.9" width="17.3" height="21.7" fill="#55215f"/>
<rect x="83.14" y="344" width="17.3" height="15.9" fill="#c9c7cc"/>
<rect x="101.76" y="417.8" width="17.3" height="36.6" fill="#68a548"/>
<rect x="101.76" y="408.8" width="17.3" height="9" fill="#a6002a"/>
<rect x="101.76" y="367" width="17.3" height="41.8" fill="#55215f"/>
<rect x="101.76" y="358.7" width="17.3" height="8.3" fill="#2b4b7e"/>
<rect x="101.76" y="344" width="17.3" height="14.7" fill="#c9c7cc"/>
<rect x="120.38" y="407.7" width="17.3" height="46.7" fill="#68a548"/>
<rect x="120.38" y="395.8" width="17.3" height="11.9" fill="#a6002a"/>
<rect x="120.38" y="344" width="17.3" height="51.8" fill="#c9c7cc"/>
<rect x="139" y="419" width="17.3" height="35.4" fill="#ebbc2a"/>
<rect x="139" y="404.3" width="17.3" height="14.7" fill="#a6002a"/>
<rect x="139" y="344" width="17.3" height="60.3" fill="#2b4b7e"/>
<line x1="45" y1="454.5" x2="156.2" y2="454.5" stroke="#000" stroke-width="1.1"/>
<line x1="54.6" y1="454.5" x2="54.6" y2="457.4" stroke="#000" stroke-width="0.9"/>
<text transform="translate(60.8 463.3) rotate(-45) scale(0.9 1)" x="0" y="0" font-size="8.4" text-anchor="end" fill="#000">AML</text>
<line x1="73.15" y1="454.5" x2="73.15" y2="457.4" stroke="#000" stroke-width="0.9"/>
<text transform="translate(78.43 464.22) rotate(-45) scale(0.9 1)" x="0" y="0" font-size="8.4" text-anchor="end" fill="#000">AP/BP</text>
<line x1="91.7" y1="454.5" x2="91.7" y2="457.4" stroke="#000" stroke-width="0.9"/>
<text transform="translate(97.9 463.3) rotate(-45) scale(0.9 1)" x="0" y="0" font-size="8.4" text-anchor="end" fill="#000">CP-ALL</text>
<line x1="110.25" y1="454.5" x2="110.25" y2="457.4" stroke="#000" stroke-width="0.9"/>
<text transform="translate(113.48 466.27) rotate(-45) scale(0.9 1)" x="0" y="0" font-size="8.4" text-anchor="end" fill="#000">CP-poor</text>
<line x1="128.8" y1="454.5" x2="128.8" y2="457.4" stroke="#000" stroke-width="0.9"/>
<text transform="translate(132.6 465.7) rotate(-45) scale(0.9 1)" x="0" y="0" font-size="8.4" text-anchor="end" fill="#000">CP-suboptimal</text>
<line x1="147.35" y1="454.5" x2="147.35" y2="457.4" stroke="#000" stroke-width="0.9"/>
<text transform="translate(151.43 465.42) rotate(-45) scale(0.9 1)" x="0" y="0" font-size="8.4" text-anchor="end" fill="#000">CP-optimal</text>
<rect x="165" y="346.2" width="4.6" height="3.6" fill="#68a548"/>
<text transform="translate(173.7 350.3) scale(0.955 1)" font-size="7.4" text-anchor="start" font-weight="normal" fill="#000">Signature 1 (age-related)</text>
<rect x="165" y="355.88" width="4.6" height="3.6" fill="#e08c1e"/>
<text transform="translate(173.7 359.98) scale(0.955 1)" font-size="7.4" text-anchor="start" font-weight="normal" fill="#000">Signature 3 (DSBR by HR)</text>
<rect x="165" y="365.56" width="4.6" height="3.6" fill="#ebbc2a"/>
<text transform="translate(173.7 369.66) scale(0.955 1)" font-size="7.4" text-anchor="start" font-weight="normal" fill="#000">Signature 6 (DNA MMR)</text>
<rect x="165" y="375.24" width="4.6" height="3.6" fill="#a6002a"/>
<text transform="translate(173.7 379.34) scale(0.955 1)" font-size="7.4" text-anchor="start" font-weight="normal" fill="#000">Signature 7 (UV-related)</text>
<rect x="165" y="384.92" width="4.6" height="3.6" fill="#55215f"/>
<text transform="translate(173.7 389.02) scale(0.955 1)" font-size="7.4" text-anchor="start" font-weight="normal" fill="#000">Signature 9 (somatic hypermutation)</text>
<rect x="165" y="394.6" width="4.6" height="3.6" fill="#b6c48f"/>
<text transform="translate(173.7 398.7) scale(0.955 1)" font-size="7.4" text-anchor="start" font-weight="normal" fill="#000">Signature 11 (alkylating agent)</text>
<rect x="165" y="404.28" width="4.6" height="3.6" fill="#2b4b7e"/>
<text transform="translate(173.7 408.38) scale(0.955 1)" font-size="7.4" text-anchor="start" font-weight="normal" fill="#000">Signature 15 (DNA MMR)</text>
<rect x="165" y="413.96" width="4.6" height="3.6" fill="#c9c7cc"/>
<text transform="translate(173.7 418.06) scale(0.955 1)" font-size="7.4" text-anchor="start" font-weight="normal" fill="#000">others</text>
<text x="303.5" y="329.3" font-size="11.2" text-anchor="start" font-weight="bold" fill="#000" style="stroke-width:0.2px">H</text>
<path d="M336.37 389.77h6.66v6.66h-6.66ZM343.03 389.77h6.66v6.66h-6.66ZM349.68 389.77h6.66v6.66h-6.66ZM356.34 389.77h6.66v6.66h-6.66ZM362.99 389.77h6.66v6.66h-6.66ZM369.65 389.77h6.66v6.66h-6.66ZM376.3 389.77h6.66v6.66h-6.66ZM382.96 389.77h6.66v6.66h-6.66ZM389.61 389.77h6.66v6.66h-6.66ZM396.27 389.77h6.66v6.66h-6.66ZM402.92 389.77h6.66v6.66h-6.66ZM409.58 389.77h6.66v6.66h-6.66ZM416.23 389.77h6.66v6.66h-6.66ZM422.89 389.77h6.66v6.66h-6.66ZM429.54 389.77h6.66v6.66h-6.66ZM436.2 389.77h6.66v6.66h-6.66ZM343.03 396.43h6.66v6.66h-6.66ZM349.68 396.43h6.66v6.66h-6.66ZM356.34 396.43h6.66v6.66h-6.66ZM362.99 396.43h6.66v6.66h-6.66ZM369.65 396.43h6.66v6.66h-6.66ZM376.3 396.43h6.66v6.66h-6.66ZM382.96 396.43h6.66v6.66h-6.66ZM389.61 396.43h6.66v6.66h-6.66ZM396.27 396.43h6.66v6.66h-6.66ZM402.92 396.43h6.66v6.66h-6.66ZM409.58 396.43h6.66v6.66h-6.66ZM416.23 396.43h6.66v6.66h-6.66ZM422.89 396.43h6.66v6.66h-6.66ZM429.54 396.43h6.66v6.66h-6.66ZM436.2 396.43h6.66v6.66h-6.66ZM349.68 403.08h6.66v6.66h-6.66ZM356.34 403.08h6.66v6.66h-6.66ZM362.99 403.08h6.66v6.66h-6.66ZM369.65 403.08h6.66v6.66h-6.66ZM376.3 403.08h6.66v6.66h-6.66ZM382.96 403.08h6.66v6.66h-6.66ZM389.61 403.08h6.66v6.66h-6.66ZM396.27 403.08h6.66v6.66h-6.66ZM402.92 403.08h6.66v6.66h-6.66ZM409.58 403.08h6.66v6.66h-6.66ZM416.23 403.08h6.66v6.66h-6.66ZM422.89 403.08h6.66v6.66h-6.66ZM429.54 403.08h6.66v6.66h-6.66ZM436.2 403.08h6.66v6.66h-6.66ZM356.34 409.74h6.66v6.66h-6.66ZM362.99 409.74h6.66v6.66h-6.66ZM369.65 409.74h6.66v6.66h-6.66ZM376.3 409.74h6.66v6.66h-6.66ZM382.96 409.74h6.66v6.66h-6.66ZM389.61 409.74h6.66v6.66h-6.66ZM396.27 409.74h6.66v6.66h-6.66ZM402.92 409.74h6.66v6.66h-6.66ZM409.58 409.74h6.66v6.66h-6.66ZM416.23 409.74h6.66v6.66h-6.66ZM422.89 409.74h6.66v6.66h-6.66ZM429.54 409.74h6.66v6.66h-6.66ZM436.2 409.74h6.66v6.66h-6.66ZM362.99 416.39h6.66v6.66h-6.66ZM369.65 416.39h6.66v6.66h-6.66ZM376.3 416.39h6.66v6.66h-6.66ZM382.96 416.39h6.66v6.66h-6.66ZM389.61 416.39h6.66v6.66h-6.66ZM396.27 416.39h6.66v6.66h-6.66ZM402.92 416.39h6.66v6.66h-6.66ZM409.58 416.39h6.66v6.66h-6.66ZM416.23 416.39h6.66v6.66h-6.66ZM422.89 416.39h6.66v6.66h-6.66ZM429.54 416.39h6.66v6.66h-6.66ZM436.2 416.39h6.66v6.66h-6.66ZM369.65 423.05h6.66v6.66h-6.66ZM376.3 423.05h6.66v6.66h-6.66ZM382.96 423.05h6.66v6.66h-6.66ZM389.61 423.05h6.66v6.66h-6.66ZM396.27 423.05h6.66v6.66h-6.66ZM402.92 423.05h6.66v6.66h-6.66ZM409.58 423.05h6.66v6.66h-6.66ZM416.23 423.05h6.66v6.66h-6.66ZM422.89 423.05h6.66v6.66h-6.66ZM429.54 423.05h6.66v6.66h-6.66ZM436.2 423.05h6.66v6.66h-6.66ZM376.3 429.7h6.66v6.66h-6.66ZM382.96 429.7h6.66v6.66h-6.66ZM389.61 429.7h6.66v6.66h-6.66ZM396.27 429.7h6.66v6.66h-6.66ZM402.92 429.7h6.66v6.66h-6.66ZM409.58 429.7h6.66v6.66h-6.66ZM416.23 429.7h6.66v6.66h-6.66ZM422.89 429.7h6.66v6.66h-6.66ZM429.54 429.7h6.66v6.66h-6.66ZM436.2 429.7h6.66v6.66h-6.66ZM382.96 436.36h6.66v6.66h-6.66ZM389.61 436.36h6.66v6.66h-6.66ZM396.27 436.36h6.66v6.66h-6.66ZM402.92 436.36h6.66v6.66h-6.66ZM409.58 436.36h6.66v6.66h-6.66ZM416.23 436.36h6.66v6.66h-6.66ZM422.89 436.36h6.66v6.66h-6.66ZM429.54 436.36h6.66v6.66h-6.66ZM436.2 436.36h6.66v6.66h-6.66ZM389.61 443.01h6.66v6.66h-6.66ZM396.27 443.01h6.66v6.66h-6.66ZM402.92 443.01h6.66v6.66h-6.66ZM409.58 443.01h6.66v6.66h-6.66ZM416.23 443.01h6.66v6.66h-6.66ZM422.89 443.01h6.66v6.66h-6.66ZM429.54 443.01h6.66v6.66h-6.66ZM436.2 443.01h6.66v6.66h-6.66ZM396.27 449.67h6.66v6.66h-6.66ZM402.92 449.67h6.66v6.66h-6.66ZM409.58 449.67h6.66v6.66h-6.66ZM416.23 449.67h6.66v6.66h-6.66ZM422.89 449.67h6.66v6.66h-6.66ZM429.54 449.67h6.66v6.66h-6.66ZM436.2 449.67h6.66v6.66h-6.66ZM402.92 456.32h6.66v6.66h-6.66ZM409.58 456.32h6.66v6.66h-6.66ZM416.23 456.32h6.66v6.66h-6.66ZM422.89 456.32h6.66v6.66h-6.66ZM429.54 456.32h6.66v6.66h-6.66ZM436.2 456.32h6.66v6.66h-6.66ZM409.58 462.98h6.66v6.66h-6.66ZM416.23 462.98h6.66v6.66h-6.66ZM422.89 462.98h6.66v6.66h-6.66ZM429.54 462.98h6.66v6.66h-6.66ZM436.2 462.98h6.66v6.66h-6.66ZM416.23 469.63h6.66v6.66h-6.66ZM422.89 469.63h6.66v6.66h-6.66ZM429.54 469.63h6.66v6.66h-6.66ZM436.2 469.63h6.66v6.66h-6.66ZM422.89 476.29h6.66v6.66h-6.66ZM429.54 476.29h6.66v6.66h-6.66ZM436.2 476.29h6.66v6.66h-6.66ZM429.54 482.94h6.66v6.66h-6.66ZM436.2 482.94h6.66v6.66h-6.66ZM436.2 489.6h6.66v6.66h-6.66Z" fill="none" stroke="#d0d0d0" stroke-width="0.5"/>
<circle cx="339.7" cy="393.1" r="3.05" fill="#0a2458"/>
<circle cx="346.35" cy="393.1" r="2.4" fill="#4391c8"/>
<circle cx="359.66" cy="393.1" r="1.95" fill="#92c5de"/>
<circle cx="366.32" cy="393.1" r="1.4" fill="#c8e0ef"/>
<circle cx="379.63" cy="393.1" r="2.4" fill="#4391c8"/>
<circle cx="386.28" cy="393.1" r="1.4" fill="#c8e0ef"/>
<circle cx="392.94" cy="393.1" r="1.4" fill="#c8e0ef"/>
<circle cx="399.59" cy="393.1" r="1.4" fill="#c8e0ef"/>
<circle cx="412.9" cy="393.1" r="2.75" fill="#2462aa"/>
<circle cx="419.56" cy="393.1" r="1.4" fill="#c8e0ef"/>
<circle cx="426.21" cy="393.1" r="1.4" fill="#c8e0ef"/>
<circle cx="432.87" cy="393.1" r="1.4" fill="#c8e0ef"/>
<circle cx="346.35" cy="399.75" r="3.05" fill="#0a2458"/>
<circle cx="353.01" cy="399.75" r="2.4" fill="#4391c8"/>
<circle cx="359.66" cy="399.75" r="2.75" fill="#2462aa"/>
<circle cx="366.32" cy="399.75" r="1.95" fill="#92c5de"/>
<circle cx="379.63" cy="399.75" r="2.75" fill="#2462aa"/>
<circle cx="386.28" cy="399.75" r="1.95" fill="#92c5de"/>
<circle cx="392.94" cy="399.75" r="1.4" fill="#c8e0ef"/>
<circle cx="399.59" cy="399.75" r="1.95" fill="#92c5de"/>
<circle cx="412.9" cy="399.75" r="3.05" fill="#0a2458"/>
<circle cx="419.56" cy="399.75" r="1.95" fill="#92c5de"/>
<circle cx="426.21" cy="399.75" r="2.75" fill="#2462aa"/>
<circle cx="432.87" cy="399.75" r="1.4" fill="#c8e0ef"/>
<circle cx="353.01" cy="406.41" r="3.05" fill="#0a2458"/>
<circle cx="359.66" cy="406.41" r="2.4" fill="#4391c8"/>
<circle cx="366.32" cy="406.41" r="2.4" fill="#4391c8"/>
<circle cx="372.97" cy="406.41" r="1.4" fill="#c8e0ef"/>
<circle cx="419.56" cy="406.41" r="2.75" fill="#2462aa"/>
<circle cx="426.21" cy="406.41" r="2.4" fill="#4391c8"/>
<circle cx="359.66" cy="413.06" r="3.05" fill="#0a2458"/>
<circle cx="366.32" cy="413.06" r="1.95" fill="#92c5de"/>
<circle cx="386.28" cy="413.06" r="1.95" fill="#92c5de"/>
<circle cx="412.9" cy="413.06" r="2.75" fill="#2462aa"/>
<circle cx="419.56" cy="413.06" r="2.4" fill="#4391c8"/>
<circle cx="426.21" cy="413.06" r="2.75" fill="#2462aa"/>
<circle cx="432.87" cy="413.06" r="1.4" fill="#c8e0ef"/>
<circle cx="366.32" cy="419.72" r="3.05" fill="#0a2458"/>
<circle cx="386.28" cy="419.72" r="1.95" fill="#92c5de"/>
<circle cx="392.94" cy="419.72" r="1.4" fill="#c8e0ef"/>
<circle cx="412.9" cy="419.72" r="1.95" fill="#92c5de"/>
<circle cx="419.56" cy="419.72" r="2.4" fill="#4391c8"/>
<circle cx="426.21" cy="419.72" r="1.95" fill="#92c5de"/>
<circle cx="432.87" cy="419.72" r="2.75" fill="#2462aa"/>
<circle cx="372.97" cy="426.38" r="3.05" fill="#0a2458"/>
<circle cx="406.25" cy="426.38" r="1.95" fill="#92c5de"/>
<circle cx="419.56" cy="426.38" r="1.4" fill="#c8e0ef"/>
<circle cx="439.52" cy="426.38" r="2.4" fill="#4391c8"/>
<circle cx="379.63" cy="433.03" r="3.05" fill="#0a2458"/>
<circle cx="386.28" cy="433.03" r="1.95" fill="#92c5de"/>
<circle cx="406.25" cy="433.03" r="2.4" fill="#4391c8"/>
<circle cx="412.9" cy="433.03" r="2.4" fill="#4391c8"/>
<circle cx="386.28" cy="439.69" r="3.05" fill="#0a2458"/>
<circle cx="392.94" cy="439.69" r="2.4" fill="#4391c8"/>
<circle cx="399.59" cy="439.69" r="2.75" fill="#2462aa"/>
<circle cx="412.9" cy="439.69" r="1.95" fill="#92c5de"/>
<circle cx="419.56" cy="439.69" r="1.95" fill="#92c5de"/>
<circle cx="426.21" cy="439.69" r="2.75" fill="#2462aa"/>
<circle cx="432.87" cy="439.69" r="2.75" fill="#2462aa"/>
<circle cx="392.94" cy="446.34" r="3.05" fill="#0a2458"/>
<circle cx="399.59" cy="446.34" r="2.4" fill="#4391c8"/>
<circle cx="412.9" cy="446.34" r="1.4" fill="#c8e0ef"/>
<circle cx="419.56" cy="446.34" r="2.4" fill="#4391c8"/>
<circle cx="426.21" cy="446.34" r="2.4" fill="#4391c8"/>
<circle cx="432.87" cy="446.34" r="1.95" fill="#92c5de"/>
<circle cx="399.59" cy="453" r="3.05" fill="#0a2458"/>
<circle cx="412.9" cy="453" r="1.95" fill="#92c5de"/>
<circle cx="419.56" cy="453" r="2.75" fill="#2462aa"/>
<circle cx="426.21" cy="453" r="2.75" fill="#2462aa"/>
<circle cx="432.87" cy="453" r="2.75" fill="#2462aa"/>
<circle cx="406.25" cy="459.65" r="3.05" fill="#0a2458"/>
<circle cx="439.52" cy="459.65" r="1.95" fill="#92c5de"/>
<circle cx="412.9" cy="466.31" r="3.05" fill="#0a2458"/>
<circle cx="419.56" cy="466.31" r="1.95" fill="#92c5de"/>
<circle cx="426.21" cy="466.31" r="2.4" fill="#4391c8"/>
<circle cx="432.87" cy="466.31" r="1.4" fill="#c8e0ef"/>
<circle cx="419.56" cy="472.96" r="3.05" fill="#0a2458"/>
<circle cx="426.21" cy="472.96" r="2.75" fill="#2462aa"/>
<circle cx="432.87" cy="472.96" r="1.95" fill="#92c5de"/>
<circle cx="426.21" cy="479.62" r="3.05" fill="#0a2458"/>
<circle cx="432.87" cy="479.62" r="1.95" fill="#92c5de"/>
<circle cx="432.87" cy="486.27" r="3.05" fill="#0a2458"/>
<circle cx="439.52" cy="492.93" r="3.05" fill="#0a2458"/>
<text transform="translate(336.1 395.3) scale(0.975 1)" font-size="5.2" text-anchor="end" font-weight="normal" fill="#000" style="stroke-width:0.1px">WES.AML</text>
<text transform="translate(339.75 401.95) scale(0.975 1)" font-size="5.2" text-anchor="end" font-weight="normal" fill="#000" style="stroke-width:0.1px">WES.AP.BP</text>
<text transform="translate(346.41 408.61) scale(0.975 1)" font-size="5.2" text-anchor="end" font-weight="normal" fill="#000" style="stroke-width:0.1px">WES.CP</text>
<text transform="translate(353.06 415.26) scale(0.975 1)" font-size="5.2" text-anchor="end" font-weight="normal" fill="#000" style="stroke-width:0.1px">WES.CP.poor</text>
<text transform="translate(359.72 421.92) scale(0.975 1)" font-size="5.2" text-anchor="end" font-weight="normal" fill="#000" style="stroke-width:0.1px">WES.CP.suboptimal</text>
<text transform="translate(366.37 428.57) scale(0.975 1)" font-size="5.2" text-anchor="end" font-weight="normal" fill="#000" style="stroke-width:0.1px">WES.CP.optimal</text>
<text transform="translate(373.03 435.23) scale(0.975 1)" font-size="5.2" text-anchor="end" font-weight="normal" fill="#000" style="stroke-width:0.1px">Panel.AP.BP</text>
<text transform="translate(379.68 441.88) scale(0.975 1)" font-size="5.2" text-anchor="end" font-weight="normal" fill="#000" style="stroke-width:0.1px">Panel.CP</text>
<text transform="translate(386.34 448.54) scale(0.975 1)" font-size="5.2" text-anchor="end" font-weight="normal" fill="#000" style="stroke-width:0.1px">Panel.CP.poor</text>
<text transform="translate(392.99 455.19) scale(0.975 1)" font-size="5.2" text-anchor="end" font-weight="normal" fill="#000" style="stroke-width:0.1px">Panel.CP.suboptimal</text>
<text transform="translate(399.65 461.85) scale(0.975 1)" font-size="5.2" text-anchor="end" font-weight="normal" fill="#000" style="stroke-width:0.1px">Panel.CP.optimal</text>
<text transform="translate(406.3 468.5) scale(0.975 1)" font-size="5.2" text-anchor="end" font-weight="normal" fill="#000" style="stroke-width:0.1px">Combined.AP.BP</text>
<text transform="translate(412.96 475.16) scale(0.975 1)" font-size="5.2" text-anchor="end" font-weight="normal" fill="#000" style="stroke-width:0.1px">Combined.CP</text>
<text transform="translate(419.61 481.81) scale(0.975 1)" font-size="5.2" text-anchor="end" font-weight="normal" fill="#000" style="stroke-width:0.1px">Combined.CP.poor</text>
<text transform="translate(426.27 488.47) scale(0.975 1)" font-size="5.2" text-anchor="end" font-weight="normal" fill="#000" style="stroke-width:0.1px">Combined.CP.suboptimal</text>
<text transform="translate(432.92 495.12) scale(0.975 1)" font-size="5.2" text-anchor="end" font-weight="normal" fill="#000" style="stroke-width:0.1px">Combined.CP.optimal</text>
<text transform="translate(341.55 387.1) rotate(-90) scale(0.975 1)" x="0" y="0" font-size="5.2" fill="#000" style="stroke-width:0.1px">WES.AML</text>
<text transform="translate(348.2 387.1) rotate(-90) scale(0.975 1)" x="0" y="0" font-size="5.2" fill="#000" style="stroke-width:0.1px">WES.AP.BP</text>
<text transform="translate(354.86 387.1) rotate(-90) scale(0.975 1)" x="0" y="0" font-size="5.2" fill="#000" style="stroke-width:0.1px">WES.CP</text>
<text transform="translate(361.51 387.1) rotate(-90) scale(0.975 1)" x="0" y="0" font-size="5.2" fill="#000" style="stroke-width:0.1px">WES.CP.poor</text>
<text transform="translate(368.17 387.1) rotate(-90) scale(0.975 1)" x="0" y="0" font-size="5.2" fill="#000" style="stroke-width:0.1px">WES.CP.suboptimal</text>
<text transform="translate(374.82 387.1) rotate(-90) scale(0.975 1)" x="0" y="0" font-size="5.2" fill="#000" style="stroke-width:0.1px">WES.CP.optimal</text>
<text transform="translate(381.48 387.1) rotate(-90) scale(0.975 1)" x="0" y="0" font-size="5.2" fill="#000" style="stroke-width:0.1px">Panel.AP.BP</text>
<text transform="translate(388.13 387.1) rotate(-90) scale(0.975 1)" x="0" y="0" font-size="5.2" fill="#000" style="stroke-width:0.1px">Panel.CP</text>
<text transform="translate(394.79 387.1) rotate(-90) scale(0.975 1)" x="0" y="0" font-size="5.2" fill="#000" style="stroke-width:0.1px">Panel.CP.poor</text>
<text transform="translate(401.44 387.1) rotate(-90) scale(0.975 1)" x="0" y="0" font-size="5.2" fill="#000" style="stroke-width:0.1px">Panel.CP.suboptimal</text>
<text transform="translate(408.1 387.1) rotate(-90) scale(0.975 1)" x="0" y="0" font-size="5.2" fill="#000" style="stroke-width:0.1px">Panel.CP.optimal</text>
<text transform="translate(414.75 387.1) rotate(-90) scale(0.975 1)" x="0" y="0" font-size="5.2" fill="#000" style="stroke-width:0.1px">Combined.AP.BP</text>
<text transform="translate(421.41 387.1) rotate(-90) scale(0.975 1)" x="0" y="0" font-size="5.2" fill="#000" style="stroke-width:0.1px">Combined.CP</text>
<text transform="translate(428.06 387.1) rotate(-90) scale(0.975 1)" x="0" y="0" font-size="5.2" fill="#000" style="stroke-width:0.1px">Combined.CP.poor</text>
<text transform="translate(434.72 387.1) rotate(-90) scale(0.975 1)" x="0" y="0" font-size="5.2" fill="#000" style="stroke-width:0.1px">Combined.CP.suboptimal</text>
<text transform="translate(441.38 387.1) rotate(-90) scale(0.975 1)" x="0" y="0" font-size="5.2" fill="#000" style="stroke-width:0.1px">Combined.CP.optimal</text>
<defs><linearGradient id="cb" x1="0" y1="0" x2="0" y2="1"><stop offset="0" stop-color="#053061"/><stop offset="0.12" stop-color="#2166AC"/><stop offset="0.24" stop-color="#4393C3"/><stop offset="0.36" stop-color="#92C5DE"/><stop offset="0.45" stop-color="#D1E5F0"/><stop offset="0.5" stop-color="#F7F7F7"/><stop offset="0.55" stop-color="#FDDBC7"/><stop offset="0.64" stop-color="#F4A582"/><stop offset="0.76" stop-color="#D6604D"/><stop offset="0.88" stop-color="#B2182B"/><stop offset="1" stop-color="#67001F"/></linearGradient></defs>
<rect x="444.4" y="389.9" width="4.6" height="105.2" fill="url(#cb)"/>
<line x1="449" y1="390.4" x2="450.4" y2="390.4" stroke="#444" stroke-width="0.5"/>
<text x="452.8" y="392.2" font-size="5.0" text-anchor="start" font-weight="normal" fill="#000" style="stroke-width:0.1px">1</text>
<line x1="449" y1="400.95" x2="450.4" y2="400.95" stroke="#444" stroke-width="0.5"/>
<text x="452.8" y="402.75" font-size="5.0" text-anchor="start" font-weight="normal" fill="#000" style="stroke-width:0.1px">0.8</text>
<line x1="449" y1="411.5" x2="450.4" y2="411.5" stroke="#444" stroke-width="0.5"/>
<text x="452.8" y="413.3" font-size="5.0" text-anchor="start" font-weight="normal" fill="#000" style="stroke-width:0.1px">0.6</text>
<line x1="449" y1="422.05" x2="450.4" y2="422.05" stroke="#444" stroke-width="0.5"/>
<text x="452.8" y="423.85" font-size="5.0" text-anchor="start" font-weight="normal" fill="#000" style="stroke-width:0.1px">0.4</text>
<line x1="449" y1="432.6" x2="450.4" y2="432.6" stroke="#444" stroke-width="0.5"/>
<text x="452.8" y="434.4" font-size="5.0" text-anchor="start" font-weight="normal" fill="#000" style="stroke-width:0.1px">0.2</text>
<line x1="449" y1="443.15" x2="450.4" y2="443.15" stroke="#444" stroke-width="0.5"/>
<text x="452.8" y="444.95" font-size="5.0" text-anchor="start" font-weight="normal" fill="#000" style="stroke-width:0.1px">0</text>
<line x1="449" y1="453.7" x2="450.4" y2="453.7" stroke="#444" stroke-width="0.5"/>
<text x="452.8" y="455.5" font-size="5.0" text-anchor="start" font-weight="normal" fill="#000" style="stroke-width:0.1px">-0.2</text>
<line x1="449" y1="464.25" x2="450.4" y2="464.25" stroke="#444" stroke-width="0.5"/>
<text x="452.8" y="466.05" font-size="5.0" text-anchor="start" font-weight="normal" fill="#000" style="stroke-width:0.1px">-0.4</text>
<line x1="449" y1="474.8" x2="450.4" y2="474.8" stroke="#444" stroke-width="0.5"/>
<text x="452.8" y="476.6" font-size="5.0" text-anchor="start" font-weight="normal" fill="#000" style="stroke-width:0.1px">-0.6</text>
<line x1="449" y1="485.35" x2="450.4" y2="485.35" stroke="#444" stroke-width="0.5"/>
<text x="452.8" y="487.15" font-size="5.0" text-anchor="start" font-weight="normal" fill="#000" style="stroke-width:0.1px">-0.8</text>
<line x1="449" y1="495.9" x2="450.4" y2="495.9" stroke="#444" stroke-width="0.5"/>
<text x="452.8" y="497.7" font-size="5.0" text-anchor="start" font-weight="normal" fill="#000" style="stroke-width:0.1px">-1</text>
<rect x="0" y="0" width="520" height="1" fill="#000"/>
<rect x="0" y="0" width="1.1" height="507" fill="#000"/>
<rect x="519" y="0" width="1" height="507" fill="#000"/>
<rect x="0" y="505.8" width="520" height="1.2" fill="#000"/>
</svg></body></html>
